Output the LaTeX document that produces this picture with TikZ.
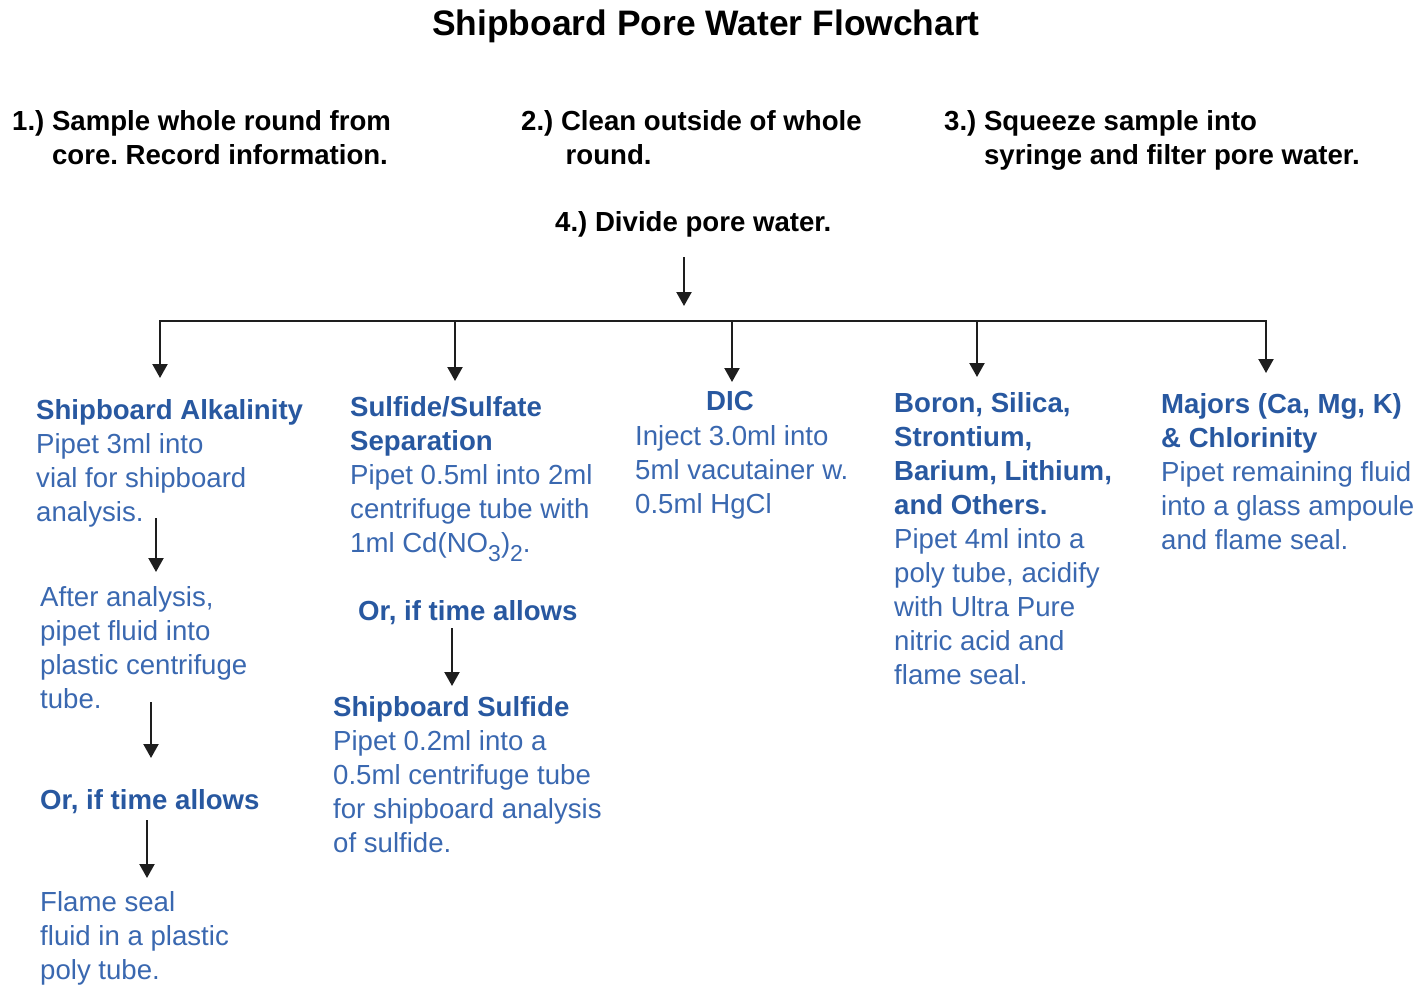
\documentclass[tikz,border=0pt]{standalone}
\usepackage{fontspec}
\setmainfont{Liberation Sans}
\usetikzlibrary{arrows.meta}
\definecolor{headblue}{RGB}{40,88,160}
\definecolor{bodyblue}{RGB}{58,104,176}
\definecolor{arrowgray}{RGB}{30,30,30}
\newcommand{\hd}[1]{{\color{headblue}\bfseries #1}}
\newcommand{\subs}[1]{\raisebox{-0.36em}{\fontsize{23}{23}\selectfont #1}}
\begin{document}
\frenchspacing
\begin{tikzpicture}[x=1pt,y=-1pt,
  txt/.style={anchor=north west, inner sep=0pt, align=left, text=bodyblue,
    font=\fontsize{27.6}{34}\selectfont},
  steptxt/.style={anchor=north west, inner sep=0pt, align=left, text=black,
    font=\fontsize{27.6}{34}\selectfont\bfseries},
  flow/.style={draw=arrowgray, line width=2.2pt, -{Triangle[width=15pt,length=14pt]}},
  bar/.style={draw=arrowgray, line width=2.2pt}]
\useasboundingbox (0,0) rectangle (1422,985);

% title
\node[anchor=base, inner sep=0pt, font=\fontsize{35.4}{40}\selectfont\bfseries] (title) at (706,35) {Shipboard Pore Water Flowchart};

% steps
\node[steptxt] (s1) at (12,106) {\strut 1.) Sample whole round from\\\hphantom{1.) }core. Record information.};
\node[steptxt] (s2) at (521,106) {\strut 2.) Clean outside of whole\\\hphantom{2.) }\,round.};
\node[steptxt] (s3) at (944,106) {\strut 3.) Squeeze sample into\\\hphantom{3.) }syringe and filter pore water.};
\node[steptxt] (s4) at (555,207) {\strut 4.) Divide pore water.};

% branch texts
\node[txt] (alk) at (36,395) {\strut\hd{Shipboard Alkalinity}\\Pipet 3ml into\\vial for shipboard\\analysis.};
\node[txt] (after) at (40,582) {\strut After analysis,\\pipet fluid into\\plastic centrifuge\\tube.};
\node[txt] (or1) at (40,785) {\strut\hd{Or, if time allows}};
\node[txt] (flame) at (40,887) {\strut Flame seal\\fluid in a plastic\\poly tube.};

\node[txt] (sulf) at (350,392) {\strut\hd{Sulfide/Sulfate}\\\hd{Separation}\\Pipet 0.5ml into 2ml\\centrifuge tube with\\1ml Cd(NO\subs{3})\subs{2}.};
\node[txt] (or2) at (358,596) {\strut\hd{Or, if time allows}};
\node[txt] (shs) at (333,692) {\strut\hd{Shipboard Sulfide}\\Pipet 0.2ml into a\\0.5ml centrifuge tube\\for shipboard analysis\\of sulfide.};

\node[anchor=base, inner sep=0pt, text=headblue, font=\fontsize{27.6}{34}\selectfont\bfseries] (dic) at (730,410) {DIC};
\node[txt] (dicb) at (635,421) {\strut Inject 3.0ml into\\5ml vacutainer w.\\0.5ml HgCl};

\node[txt] (bor) at (894,388) {\strut\hd{Boron, Silica,}\\\hd{Strontium,}\\\hd{Barium, Lithium,}\\\hd{and Others.}\\Pipet 4ml into a\\poly tube, acidify\\with Ultra Pure\\nitric acid and\\flame seal.};

\node[txt] (maj) at (1161,389) {\strut\hd{Majors (Ca, Mg, K)}\\\hd{\& Chlorinity}\\Pipet remaining fluid\\into a glass ampoule\\and flame seal.};

% connector coordinates
\coordinate (dtop) at (684,257);
\coordinate (dbot) at (684,306);
\coordinate (bl) at (160,321);
\coordinate (br) at (1266,321);
\coordinate (b2) at (455,321);
\coordinate (b3) at (732,321);
\coordinate (b4) at (977,321);
\coordinate (t1) at (160,378);
\coordinate (t2) at (455,381);
\coordinate (t3) at (732,382);
\coordinate (t4) at (977,377);
\coordinate (t5) at (1266,373);
\coordinate (a1s) at (156,518);
\coordinate (a1e) at (156,572);
\coordinate (a2s) at (151,702);
\coordinate (a2e) at (151,758);
\coordinate (a3s) at (147,820);
\coordinate (a3e) at (147,878);
\coordinate (c1s) at (452,628);
\coordinate (c1e) at (452,686);

% connectors
\draw[flow] (dtop) -- (dbot);
\draw[bar, line cap=rect] (bl) -- (br);
\draw[flow] (bl) -- (t1);
\draw[flow] (b2) -- (t2);
\draw[flow] (b3) -- (t3);
\draw[flow] (b4) -- (t4);
\draw[flow] (br) -- (t5);
\draw[flow] (a1s) -- (a1e);
\draw[flow] (a2s) -- (a2e);
\draw[flow] (a3s) -- (a3e);
\draw[flow] (c1s) -- (c1e);
\end{tikzpicture}
\end{document}
